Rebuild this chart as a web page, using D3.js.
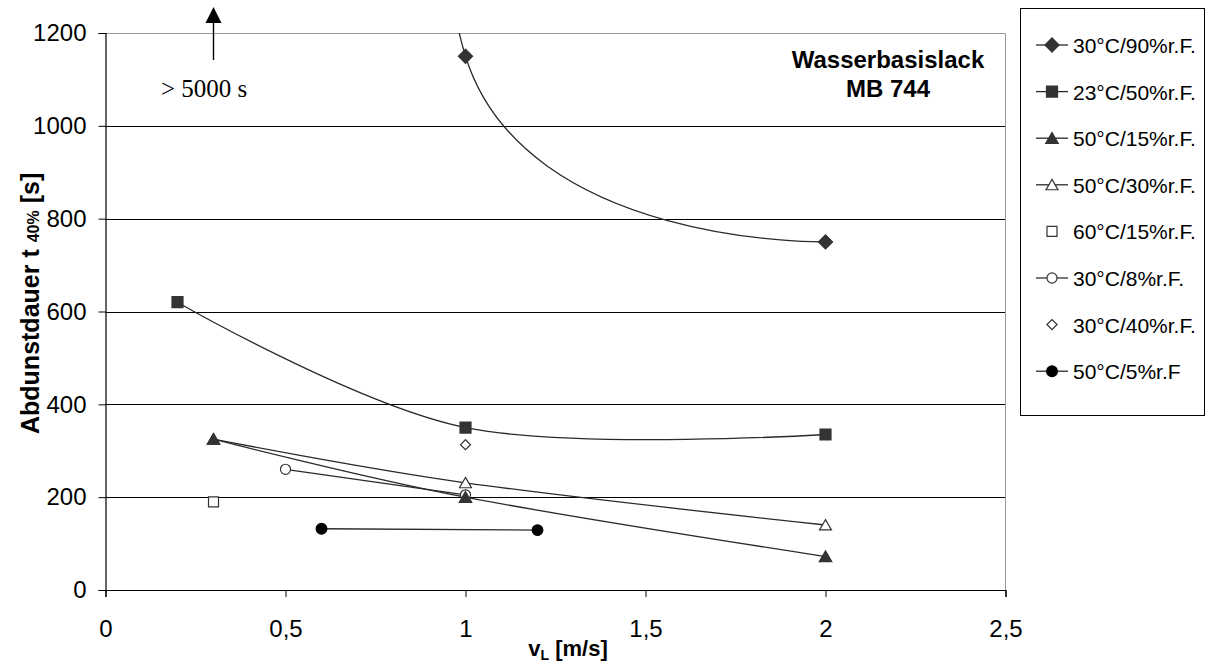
<!DOCTYPE html>
<html>
<head>
<meta charset="utf-8">
<script src="https://cdn.jsdelivr.net/npm/d3@7"></script>
<style>
  body { margin: 0; background: #fff; }
</style>
</head>
<body>
<script>
const xTicks = [0, 0.5, 1, 1.5, 2, 2.5];
const yTicks = [0, 200, 400, 600, 800, 1000, 1200];

// 30°C/90%r.F. - erster Punkt liegt ausserhalb (> 5000 s)
const s3090x = [0.3, 1, 2];
const s3090y = [5000, 1150, 750];
const s2350x = [0.2, 1, 2];
const s2350y = [620, 350, 335];
const s5015x = [0.3, 1, 2];
const s5015y = [325, 200, 72];
const s5030x = [0.3, 1, 2];
const s5030y = [325, 231, 140];
const s6015x = [0.3];
const s6015y = [190];
const s3008x = [0.5, 1];
const s3008y = [260, 205];
const s3040x = [1];
const s3040y = [313];
const s5005x = [0.6, 1.2];
const s5005y = [132, 129];

const names = ["30°C/90%r.F.", "23°C/50%r.F.", "50°C/15%r.F.", "50°C/30%r.F.",
               "60°C/15%r.F.", "30°C/8%r.F.", "30°C/40%r.F.", "50°C/5%r.F"];

const series = [
  { name: names[0], xs: s3090x, ys: s3090y, sym: "diamond", size: 100, fill: "#333", line: true, tension: 0.42 },
  { name: names[1], xs: s2350x, ys: s2350y, sym: "square", size: 121, fill: "#333", line: true, tension: 0 },
  { name: names[2], xs: s5015x, ys: s5015y, sym: "triangle", size: 68, fill: "#333", line: true, tension: 0 },
  { name: names[3], xs: s5030x, ys: s5030y, sym: "triangle", size: 62, fill: "#fff", line: true, tension: 0 },
  { name: names[4], xs: s6015x, ys: s6015y, sym: "square", size: 100, fill: "#fff", line: false },
  { name: names[5], xs: s3008x, ys: s3008y, sym: "circle", size: 80, fill: "#fff", line: true, tension: 0 },
  { name: names[6], xs: s3040x, ys: s3040y, sym: "diamond", size: 50, fill: "#fff", line: false },
  { name: names[7], xs: s5005x, ys: s5005y, sym: "circle", size: 90, fill: "#000", line: true, tension: 0 }
];

const W = 1209, H = 666;
const pLeft = 105.5, pRight = 1005.5, pTop = 33, pBottom = 590;
const sans = "'Liberation Sans', Arial, sans-serif";
const serif = "'Liberation Serif', 'Times New Roman', serif";

const svg = d3.select("body").append("svg")
  .attr("width", W).attr("height", H)
  .style("font-family", sans);

const x = d3.scaleLinear().domain([0, 2.5]).range([pLeft, pRight]);
const y = d3.scaleLinear().domain([0, 1200]).range([pBottom, pTop]);

// Gitterlinien
svg.append("g")
  .selectAll("line")
  .data(yTicks.filter(d => d > 0 && d < 1200))
  .enter().append("line")
  .attr("x1", pLeft).attr("x2", pRight)
  .attr("y1", d => Math.round(y(d)) + 0.5).attr("y2", d => Math.round(y(d)) + 0.5)
  .attr("stroke", "#000").attr("stroke-width", 1);

// Rahmen oben / rechts (grau)
svg.append("path")
  .attr("d", `M${pLeft},${pTop + 0.5}H${pRight}V${pBottom}`)
  .attr("fill", "none").attr("stroke", "#999").attr("stroke-width", 1);

// Achsen
const yAxis = svg.append("g")
  .attr("transform", `translate(${pLeft},0)`)
  .call(d3.axisLeft(y).tickValues(yTicks).tickSize(7).tickPadding(12).tickFormat(d3.format("d")));
const xAxis = svg.append("g")
  .attr("transform", `translate(0,${pBottom})`)
  .call(d3.axisBottom(x).tickValues(xTicks).tickSize(7).tickPadding(23)
        .tickFormat(d => String(d).replace(".", ",")));

[yAxis, xAxis].forEach(a => {
  a.select(".domain").attr("stroke", "#000").attr("stroke-width", 1.2);
  a.selectAll(".tick line").attr("stroke", "#000");
  a.selectAll(".tick text").attr("font-size", 24).attr("fill", "#000")
    .style("font-family", sans);
});

// Achsentitel
const yl = svg.append("text")
  .attr("transform", "translate(39,434) rotate(-90)")
  .attr("text-anchor", "start")
  .attr("font-size", 25).attr("font-weight", "bold");
yl.append("tspan").text("Abdunstdauer t ");
yl.append("tspan").attr("font-size", 16).text("40%");
yl.append("tspan").text(" [s]");

const xl = svg.append("text")
  .attr("x", 568).attr("y", 656)
  .attr("text-anchor", "middle")
  .attr("font-size", 22).attr("font-weight", "bold");
xl.append("tspan").text("v");
xl.append("tspan").attr("font-size", 14).attr("dy", 4).text("L");
xl.append("tspan").attr("dy", -4).text(" [m/s]");

// Beschriftung
svg.append("text").attr("x", 888).attr("y", 68)
  .attr("text-anchor", "middle").attr("font-size", 24).attr("font-weight", "bold")
  .text("Wasserbasislack");
svg.append("text").attr("x", 888).attr("y", 97)
  .attr("text-anchor", "middle").attr("font-size", 24).attr("font-weight", "bold")
  .text("MB 744");

// Pfeil > 5000 s
const ax = x(s3090x[0]);
svg.append("line")
  .attr("x1", ax).attr("x2", ax).attr("y1", 60).attr("y2", 20)
  .attr("stroke", "#000").attr("stroke-width", 1.4);
svg.append("path")
  .attr("d", `M${ax},7L${ax + 8},23L${ax - 8},23Z`).attr("fill", "#000");
svg.append("text").attr("x", 161).attr("y", 97)
  .style("font-family", serif)
  .attr("font-size", 25).text("> 5000 s");

// Clip für Plotbereich
svg.append("clipPath").attr("id", "plot")
  .append("rect").attr("x", pLeft).attr("y", pTop).attr("width", pRight - pLeft).attr("height", pBottom - pTop);

const symType = { diamond: d3.symbolSquare, square: d3.symbolSquare, triangle: d3.symbolTriangle, circle: d3.symbolCircle };
function marker(g, s, cx, cy) {
  const rot = s.sym === "diamond" ? " rotate(45)" : "";
  const dy = s.sym === "triangle" ? 1.5 : 0;
  g.append("path")
    .attr("d", d3.symbol().type(symType[s.sym]).size(s.size)())
    .attr("transform", `translate(${cx},${cy + dy})${rot}`)
    .attr("fill", s.fill)
    .attr("stroke", s.fill === "#fff" ? "#333" : s.fill)
    .attr("stroke-width", 1.2);
}

const plot = svg.append("g").attr("clip-path", "url(#plot)");

series.forEach(s => {
  const pts = s.xs.map((v, i) => [v, s.ys[i]]);
  if (s.line) {
    const line = d3.line()
      .x(d => x(d[0])).y(d => y(d[1]))
      .curve(d3.curveCardinal.tension(s.tension));
    plot.append("path").datum(pts)
      .attr("d", line)
      .attr("fill", "none").attr("stroke", "#2a2a2a").attr("stroke-width", 1.3);
  }
});
// Marker: erste Reihen liegen oben
series.slice().reverse().forEach(s => {
  s.xs.forEach((v, i) => marker(plot, s, x(v), y(s.ys[i])));
});

// Legende
const lg = svg.append("g");
lg.append("rect").attr("x", 1020.5).attr("y", 8.5).attr("width", 184).attr("height", 407)
  .attr("fill", "#fff").attr("stroke", "#000").attr("stroke-width", 1);
series.forEach((s, i) => {
  const ry = 45 + i * 46.6;
  if (s.line) {
    lg.append("line").attr("x1", 1036).attr("x2", 1068).attr("y1", ry).attr("y2", ry)
      .attr("stroke", "#2a2a2a").attr("stroke-width", 1.3);
  }
  marker(lg, s, 1052, ry);
  lg.append("text").attr("x", 1073).attr("y", ry + 8).attr("font-size", 21).text(s.name);
});
</script>
</body>
</html>
